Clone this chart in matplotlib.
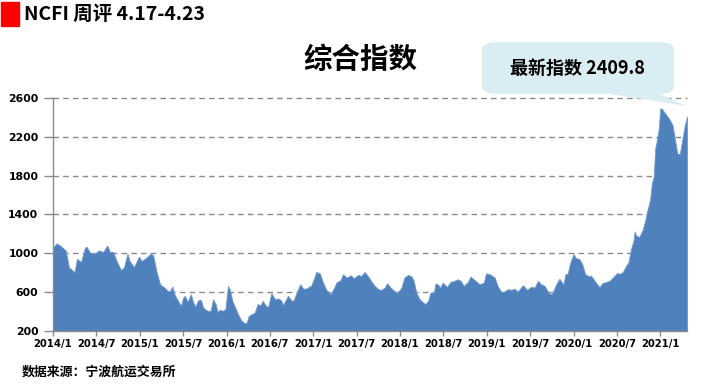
import matplotlib
matplotlib.use("Agg")
import matplotlib.pyplot as plt
from matplotlib.patches import FancyBboxPatch, Polygon

plt.rcParams['font.family'] = ['Noto Sans CJK SC', 'DejaVu Sans']

# months since 2014/1 (weekly index sampled where read)
month_offset = [
    0.0, 0.5, 0.97, 1.57, 1.75, 2.21, 2.58, 2.95, 3.32, 3.87, 4.42, 4.65, 5.11, 5.8,
    6.36, 6.95, 7.5, 7.87, 8.33, 8.8, 9.4, 9.8, 10.3, 10.6, 11.2, 11.9, 12.25, 12.9,
    13.5, 13.86, 14.3, 14.8, 15.4, 15.85, 16.2, 16.5, 16.85, 17.3, 17.7, 18.0, 18.24,
    18.6, 19.07, 19.39, 19.7, 20.08, 20.45, 20.77, 21.1, 21.46, 21.8, 22.15, 22.5,
    22.75, 23.07, 23.5, 23.85, 24.2, 24.45, 24.8, 25.2, 25.7, 26.07, 26.5, 26.76,
    27.08, 27.5, 27.9, 28.3, 28.7, 29.0, 29.4, 29.75, 30.2, 30.7, 31.2, 31.6, 31.8,
    32.5, 33.0, 33.3, 33.8, 34.2, 34.6, 35.05, 35.5, 35.7, 36.1, 36.4, 36.9, 37.35,
    37.8, 38.4, 38.9, 39.2, 39.8, 40.1, 40.6, 41.2, 41.6, 42.2, 42.65, 43.1, 43.6,
    44.0, 44.5, 45.0, 45.4, 45.9, 46.2, 46.7, 47.2, 47.6, 48.2, 48.6, 49.1, 49.6,
    49.9, 50.25, 50.7, 51.2, 51.5, 51.9, 52.2, 52.7, 52.9, 53.2, 53.6, 53.9, 54.5,
    55.0, 55.5, 56.0, 56.4, 56.8, 57.4, 57.75, 58.3, 59.0, 59.6, 59.9, 60.4, 61.1,
    61.5, 62.0, 62.4, 62.9, 63.4, 63.8, 64.3, 65.0, 65.6, 66.1, 66.6, 67.1, 67.5,
    68.0, 68.4, 68.8, 69.1, 69.6, 70.05, 70.6, 70.9, 71.2, 71.5, 72.0, 72.3, 72.8,
    73.2, 73.6, 74.1, 74.4, 74.9, 75.2, 75.6, 76.0, 76.5, 77.05, 77.5, 78.0, 78.4,
    78.8, 79.3, 79.6, 79.95, 80.3, 80.45, 80.7, 81.1, 81.55, 81.9, 82.2, 82.6, 82.85,
    83.1, 83.3, 83.5, 83.8, 84.0, 84.2, 84.7, 85.2, 85.7, 86.0, 86.35, 86.7, 87.0,
    87.4, 87.7,
]
ncfi = [
    1060, 1103, 1082, 1041, 1034, 853, 836, 802, 945, 911, 1058, 1068, 1007, 997,
    1031, 1014, 1082, 1014, 1014, 921, 829, 853, 997, 921, 860, 966, 921, 955,
    997, 979, 819, 682, 648, 614, 614, 658, 570, 511, 460, 545, 562,
    501, 579, 494, 453, 518, 521, 443, 419, 408, 408, 528, 477,
    398, 419, 408, 425, 665, 631, 511, 443, 357, 306, 282, 282,
    357, 374, 391, 477, 466, 511, 466, 443, 590, 528, 535, 511, 466,
    562, 511, 518, 614, 682, 637, 637, 660, 665, 740, 808, 795, 699,
    624, 579, 648, 699, 726, 785, 750, 774, 743, 778, 767, 808, 761,
    716, 665, 631, 624, 648, 692, 648, 614, 590, 648, 750, 778, 761,
    716, 596, 528, 494, 477, 511, 596, 596, 689, 682, 648, 699, 655,
    706, 716, 733, 716, 665, 706, 761, 726, 682, 699, 795, 785, 750,
    665, 603, 603, 631, 624, 637, 607, 672, 624, 655, 648, 716, 682,
    665, 614, 579, 590, 682, 738, 680, 789, 789, 891, 993, 952, 942,
    891, 789, 762, 772, 721, 687, 653, 694, 704, 721, 755, 796, 789,
    806, 874, 908, 1044, 1130, 1225, 1180, 1170, 1238, 1334, 1436, 1555, 1725,
    1793, 2083, 2151, 2287, 2491, 2491, 2440, 2389, 2321, 2185, 2031, 2021, 2151,
    2321, 2409.8,
]
tick_months = [0, 6, 12, 18, 24, 30, 36, 42, 48, 54, 60, 66, 72, 78, 84]
tick_labels = ["2014/1", "2014/7", "2015/1", "2015/7", "2016/1", "2016/7", "2017/1",
               "2017/7", "2018/1", "2018/7", "2019/1", "2019/7", "2020/1", "2020/7",
               "2021/1"]
y_ticks = [200, 600, 1000, 1400, 1800, 2200, 2600]

W, H = 726, 384
fig = plt.figure(figsize=(W / 100, H / 100), dpi=100)

def fx(x):
    return x / W

def fy(y):
    return 1 - y / H

ax = fig.add_axes([fx(53), fy(331), fx(687) - fx(53), fy(98) - fy(331)])
ax.fill_between(month_offset, 200, ncfi, color='#4f81bd', linewidth=0.6,
                edgecolor='#6f9bd0', zorder=2)
ax.set_xlim(0, 87.7)
ax.set_ylim(200, 2600)
ax.set_yticks(y_ticks)
ax.set_xticks(tick_months)
ax.set_xticklabels(tick_labels)
for v in y_ticks[1:]:
    ax.axhline(v, color='#8a8a8a', linewidth=1.0, linestyle=(0, (4, 3)), zorder=1,
               clip_on=False)
for s in ['top', 'right']:
    ax.spines[s].set_visible(False)
for s in ['left', 'bottom']:
    ax.spines[s].set_color('#8a8a8a')
    ax.spines[s].set_linewidth(1.0)
ax.tick_params(axis='y', length=6.5, width=1, color='#8a8a8a', pad=4, labelsize=7.8)
ax.tick_params(axis='x', length=3.5, width=1, color='#8a8a8a', pad=2.5, labelsize=7.2)
for lab in ax.get_yticklabels() + ax.get_xticklabels():
    lab.set_fontweight('bold')
    lab.set_family(['DejaVu Sans'])

# header
fig.add_artist(plt.Rectangle((fx(1), fy(26)), fx(18) - fx(0), fy(2) - fy(26),
                             transform=fig.transFigure, color='#ff0000'))
fig.text(fx(24), fy(14), "NCFI 周评 4.17-4.23", fontsize=14, fontweight='bold',
         va='center', ha='left', color='black')

# title
fig.text(fx(360), fy(60), "综合指数", fontsize=20.5, fontweight='heavy',
         ha='center', va='center')

# callout
box = FancyBboxPatch((fx(482), fy(94)), fx(674) - fx(482), fy(42) - fy(94),
                     boxstyle="round,pad=0,rounding_size=0.02",
                     transform=fig.transFigure, facecolor='#daedf3',
                     edgecolor='none', zorder=5)
fig.add_artist(box)
tail = Polygon([(fx(603), fy(93)), (fx(657), fy(93)), (fx(687), fy(106))],
               closed=True, transform=fig.transFigure, facecolor='#daedf3',
               edgecolor='none', zorder=5)
fig.add_artist(tail)
fig.text(fx(578), fy(69), "最新指数 2409.8", fontsize=13, fontweight='bold',
         ha='center', va='center', zorder=6)

# footer
fig.text(fx(22), fy(372), "数据来源：宁波航运交易所", fontsize=9.3, fontweight='bold',
         ha='left', va='center')

fig.savefig("out.png", dpi=100)
